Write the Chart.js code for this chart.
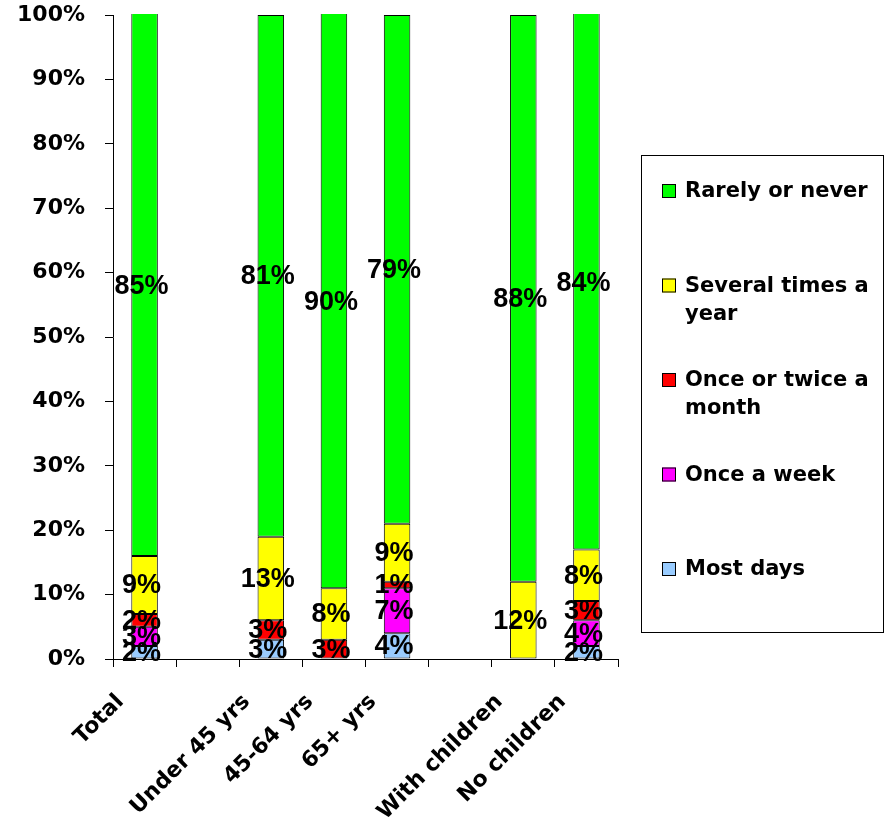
<!DOCTYPE html>
<html>
<head>
<meta charset="utf-8">
<script src="https://cdn.jsdelivr.net/npm/chart.js@4.4.1/dist/chart.umd.min.js"></script>
<style>
  html, body { margin: 0; padding: 0; background: #fff; }
</style>
</head>
<body>
<canvas id="myChart" width="885" height="825"></canvas>
<script>
// categories (empty ones are the gaps between groups)
var groups = ["Total", "", "Under 45 yrs", "45-64 yrs", "65+ yrs", "", "With children", "No children"];

// series values, in % (bottom of the stack first)
var mostDays    = [2, null, 3, null, 4, null, null, 2];
var onceWeek    = [3, null, null, null, 7, null, null, 4];
var onceMonth   = [2, null, 3, 3, 1, null, null, 3];
var severalYear = [9, null, 13, 8, 9, null, 12, 8];
var rarelyNever = [85, null, 81, 90, 79, null, 88, 84];

var seriesNames = ["Most days", "Once a week", "Once or twice a month", "Several times a year", "Rarely or never"];
var seriesColors = ["#99CCFF", "#FF00FF", "#FF0000", "#FFFF00", "#00FF00"];
var seriesValues = [mostDays, onceWeek, onceMonth, severalYear, rarelyNever];

var tickFont = { family: "'DejaVu Sans', sans-serif", size: 22, weight: 'bold' };

// labels in the middle of each segment
const barLabels = {
    id: 'barLabels',
    afterDatasetsDraw(chart) {
        var ctx = chart.ctx;
        ctx.save();
        ctx.font = 'bold 27px "Liberation Sans", Arial, sans-serif';
        ctx.fillStyle = '#000';
        ctx.textAlign = 'center';
        ctx.textBaseline = 'middle';
        chart.data.datasets.forEach(function (ds, i) {
            var meta = chart.getDatasetMeta(i);
            meta.data.forEach(function (bar, j) {
                var v = ds.data[j];
                if (v == null) return;
                var top = Math.max(bar.y, chart.chartArea.top);
                ctx.fillText(v + '%', bar.x - 3, (top + bar.base) / 2 + 1);
            });
        });
        ctx.restore();
    }
};

function wrapText(ctx, text, maxW) {
    var words = text.split(' ');
    var lines = [];
    var cur = '';
    words.forEach(function (w) {
        var test = cur ? cur + ' ' + w : w;
        if (ctx.measureText(test).width > maxW && cur) {
            lines.push(cur);
            cur = w;
        } else {
            cur = test;
        }
    });
    lines.push(cur);
    return lines;
}

// boxed legend on the right, top series first, long names wrapped
const sideLegend = {
    id: 'sideLegend',
    afterDraw(chart) {
        var ctx = chart.ctx;
        var left = chart.chartArea.right + 23, top = 155, w = 243, h = 477;
        ctx.save();
        ctx.strokeStyle = '#000';
        ctx.lineWidth = 1;
        ctx.strokeRect(left + 0.5, top + 0.5, w - 1, h);
        ctx.font = 'bold 21px "DejaVu Sans", sans-serif';
        ctx.textBaseline = 'middle';
        var items = chart.data.datasets.slice().reverse();
        items.forEach(function (ds, k) {
            var y = top + 36 + k * 94.5;
            ctx.fillStyle = ds.backgroundColor;
            ctx.fillRect(left + 21, y - 7, 14, 14);
            ctx.strokeRect(left + 21.5, y - 6.5, 13, 13);
            ctx.fillStyle = '#000';
            wrapText(ctx, ds.label, 196).forEach(function (ln, n) {
                ctx.fillText(ln, left + 44, y + 1 + n * 28);
            });
        });
        ctx.restore();
    }
};

var datasets = seriesNames.map(function (name, i) {
    return {
        label: name,
        data: seriesValues[i],
        backgroundColor: seriesColors[i],
        borderColor: '#000',
        borderWidth: 1,
        borderSkipped: false,
        categoryPercentage: 1.0,
        barPercentage: 0.42,
        clip: 1
    };
});

new Chart("myChart", {
    type: "bar",
    data: {
        labels: groups,
        datasets: datasets
    },
    options: {
        responsive: false,
        animation: false,
        devicePixelRatio: 1,
        layout: { padding: { left: 0, right: 267, top: 15, bottom: 0 } },
        plugins: {
            legend: { display: false },
            tooltip: { enabled: false }
        },
        scales: {
            x: {
                stacked: true,
                grid: { display: true, drawOnChartArea: false, color: '#000', tickLength: 8 },
                border: { display: true, color: '#000', width: 1 },
                ticks: {
                    color: '#000',
                    font: tickFont,
                    maxRotation: 45,
                    minRotation: 45,
                    autoSkip: false,
                    padding: 22,
                    labelOffset: -24
                },
                afterFit: function (scale) { scale.height = 166; }
            },
            y: {
                stacked: true,
                min: 0,
                max: 100,
                grid: { display: true, drawOnChartArea: false, color: '#000', tickLength: 8 },
                border: { display: true, color: '#000', width: 1 },
                ticks: {
                    color: '#000',
                    font: tickFont,
                    stepSize: 10,
                    padding: 20,
                    callback: function (v) { return v + '%'; }
                },
                afterFit: function (scale) {
                    scale.width = 113;
                    scale.paddingTop = 0;
                    scale.paddingBottom = 0;
                }
            }
        }
    },
    plugins: [barLabels, sideLegend]
});
</script>
</body>
</html>
